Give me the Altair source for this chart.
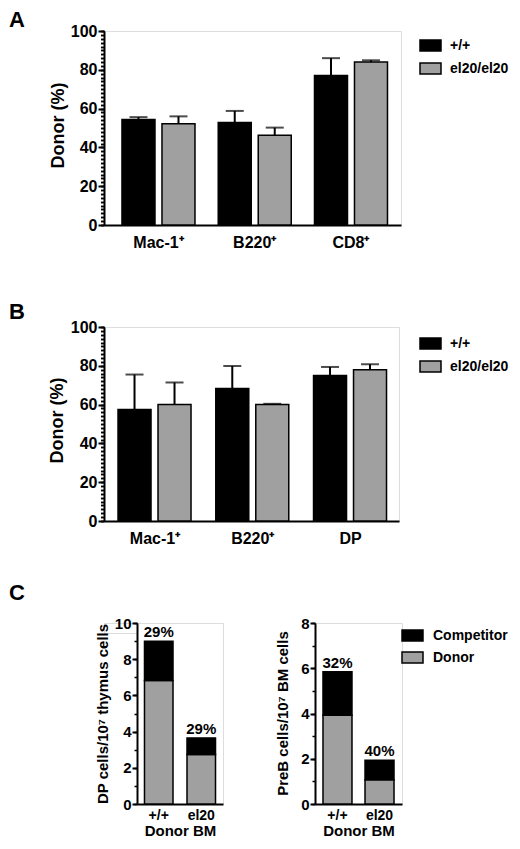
import altair as alt
import pandas as pd

FONT = "Liberation Sans"
GRAY = "#a0a0a0"
BLACK = "#000000"

# ---------------- data ----------------
genotypes = ["+/+", "el20/el20"]

a_cells = ["Mac-1⁺", "B220⁺", "CD8⁺"]
a_wt_mean = [54.4, 52.8, 77.0]
a_wt_sem = [1.2, 6.0, 9.0]
a_ko_mean = [52.2, 46.2, 84.0]
a_ko_sem = [3.8, 4.0, 0.9]

b_cells = ["Mac-1⁺", "B220⁺", "DP"]
b_wt_mean = [57.5, 68.3, 75.0]
b_wt_sem = [18.0, 11.6, 4.4]
b_ko_mean = [60.1, 60.0, 78.0]
b_ko_sem = [11.3, 0.4, 2.8]

donor_bm = ["+/+", "el20"]
sources = ["Competitor", "Donor"]
c1_donor = [6.82, 2.74]
c1_comp = [2.17, 0.91]
c1_pct = ["29%", "29%"]
c2_donor = [3.92, 1.07]
c2_comp = [1.93, 0.86]
c2_pct = ["32%", "40%"]

pct_major = [0, 20, 40, 60, 80, 100]
pct_minor = list(range(0, 101, 2))
c1_major = [0, 2, 4, 6, 8, 10]
c1_minor = list(range(0, 11))
c2_major = [0, 2, 4, 6, 8]
c2_minor = list(range(0, 9))

SYMBOL = "M-1,-0.524H1V0.524H-1Z"


def major_axis(values, title, title_size, label_size, tsize, tx, ty):
    return alt.Axis(
        values=values, title=title, orient="left", grid=False, labelFlush=False,
        labelOverlap=False, labelFont=FONT, labelFontSize=label_size,
        labelFontWeight="bold", labelColor=BLACK, labelPadding=1,
        tickSize=tsize, tickWidth=2, tickColor=BLACK,
        domainColor=BLACK, domainWidth=2,
        titleFont=FONT, titleFontSize=title_size, titleFontWeight="bold",
        titleColor=BLACK, titleAngle=270, titleBaseline="alphabetic",
        titleX=tx, titleY=ty,
    )


def minor_axis(values, tsize):
    return alt.Axis(values=values, title=None, orient="left", grid=False,
                    labels=False, domain=False, tickSize=tsize, tickWidth=1.5,
                    tickColor=BLACK)


def x_axis(size, pad, title=None):
    kw = dict(
        labelAngle=0, ticks=False, domainColor=BLACK, domainWidth=2,
        grid=False, labelFont=FONT, labelFontSize=size, labelFontWeight="bold",
        labelColor=BLACK, labelPadding=pad,
    )
    if title:
        kw.update(title=title, titleFont=FONT, titleFontSize=15, titleFontWeight="bold",
                  titleColor=BLACK, titlePadding=1)
    else:
        kw.update(title=None)
    return alt.Axis(**kw)


def legend(x, y, label_offset, row_pad):
    return alt.Legend(
        title=None, orient="none", legendX=x, legendY=y, direction="vertical",
        symbolType=SYMBOL, symbolSize=441, symbolStrokeColor=BLACK,
        symbolStrokeWidth=1.5, labelFont=FONT, labelFontSize=14,
        labelFontWeight="bold", labelColor=BLACK, labelOffset=label_offset,
        rowPadding=row_pad, padding=0,
    )


def panel_title(letter, dx, dy):
    return alt.TitleParams(text=letter, anchor="start", frame="group", font=FONT,
                           fontSize=22, fontWeight="bold", color=BLACK, dx=dx,
                           dy=dy, offset=0)


def bar_panel(cells, wt_m, wt_s, ko_m, ko_s, key, width, pin, pout, align,
              off_pin, leg_xy, ytitle_xy, title):
    df = pd.DataFrame({
        "cell": cells * 2,
        key: [genotypes[0]] * len(cells) + [genotypes[1]] * len(cells),
        "mean": wt_m + ko_m,
        "sem": wt_s + ko_s,
    })
    xs = alt.Scale(domain=cells, paddingInner=pin, paddingOuter=pout, align=align)
    offs = alt.Scale(domain=genotypes, paddingInner=off_pin, paddingOuter=0)
    ys = alt.Scale(domain=[0, 100], nice=False)
    y_main = major_axis(pct_major, "Donor (%)", 18, 16, 6, ytitle_xy[0], ytitle_xy[1])
    y_minor = minor_axis(pct_minor, 3.5)
    X = alt.X("cell:N", scale=xs, axis=x_axis(16, 9))
    XO = alt.XOffset(f"{key}:N", scale=offs)
    base = alt.Chart(df)
    bars = base.mark_bar(stroke=BLACK, strokeWidth=1.5).encode(
        x=X, xOffset=XO,
        y=alt.Y("mean:Q", scale=ys, axis=y_main),
        fill=alt.Fill(f"{key}:N", scale=alt.Scale(domain=genotypes, range=[BLACK, GRAY]),
                      legend=legend(leg_xy[0], leg_xy[1], 8, 2)),
    )
    err = base.transform_calculate(upper="datum.mean + datum.sem")
    rules = err.mark_rule(color=BLACK, strokeWidth=2).encode(
        x=X, xOffset=XO,
        y=alt.Y("mean:Q", scale=ys, axis=y_minor),
        y2="upper:Q",
    )
    caps = err.mark_tick(color=BLACK, thickness=2, size=18).encode(
        x=X, xOffset=XO,
        y=alt.Y("upper:Q", scale=ys, axis=y_minor),
    )
    return alt.layer(bars, rules, caps).resolve_axis(y="independent").properties(
        width=width, height=194, title=title)


def stack_panel(donor, comp, pcts, key, ymax, major_v, minor_v, width, pin, pout,
                ytitle, ytitle_xy, leg=None, title=None):
    df = pd.DataFrame({
        "bm": donor_bm * 2,
        key: ["Donor"] * len(donor_bm) + ["Competitor"] * len(donor_bm),
        "cells": donor + comp,
        "rank": [0] * len(donor_bm) + [1] * len(donor_bm),
    })
    lab = pd.DataFrame({
        "bm": donor_bm,
        "pct": pcts,
        "total": [d + c for d, c in zip(donor, comp)],
    })
    xs = alt.Scale(domain=donor_bm, paddingInner=pin, paddingOuter=pout, align=0.5)
    ys = alt.Scale(domain=[0, ymax], nice=False)
    X = alt.X("bm:N", scale=xs, axis=x_axis(14, 4, title="Donor BM"))
    bars = alt.Chart(df).mark_bar(stroke=BLACK, strokeWidth=1.5).encode(
        x=X,
        y=alt.Y("cells:Q", stack="zero", scale=ys,
                axis=major_axis(major_v, ytitle, 15, 15, 5, ytitle_xy[0], ytitle_xy[1])),
        fill=alt.Fill(f"{key}:N", scale=alt.Scale(domain=sources, range=[BLACK, GRAY]),
                      legend=leg),
        order=alt.Order("rank:Q"),
    )
    texts = alt.Chart(lab).mark_text(
        font=FONT, fontSize=15, fontWeight="bold", color=BLACK,
        baseline="alphabetic", align="center", dy=-4,
    ).encode(
        x=X,
        y=alt.Y("total:Q", scale=ys, axis=minor_axis(minor_v, 3)),
        text="pct:N",
    )
    props = dict(width=width, height=181)
    if title is not None:
        props["title"] = title
    return alt.layer(bars, texts).resolve_axis(y="independent").properties(**props)


panel_a = bar_panel(a_cells, a_wt_mean, a_wt_sem, a_ko_mean, a_ko_sem, "gA",
                    297, 0.2416, 0.1636, 0.571, 0.175, (315, 3), (-41, 94),
                    panel_title("A", -95, 9))
panel_b = bar_panel(b_cells, b_wt_mean, b_wt_sem, b_ko_mean, b_ko_sem, "gB",
                    295, 0.243, 0.1304, 0.55, 0.195, (315, 5), (-42, 93),
                    panel_title("B", -95, 5))

panel_c1 = stack_panel(c1_donor, c1_comp, c1_pct, "s1", 10, c1_major, c1_minor,
                       86, 0.329, 0.176, "DP cells/10⁷ thymus cells", (-30, 90.5),
                       leg=None, title=panel_title("C", -128, -11))
panel_c2 = stack_panel(c2_donor, c2_comp, c2_pct, "s2", 8, c2_major, c2_minor,
                       87, 0.31, 0.19, "PreB cells/10⁷ BM cells", (-27.5, 90),
                       leg=legend(86, 1, 9, 1))

spacer = alt.Chart(pd.DataFrame({"s": [0]})).mark_point(size=0, opacity=0).encode(
    x=alt.value(0), y=alt.value(0)).properties(width=33, height=10)

c_pair = alt.hconcat(panel_c1, panel_c2, spacing=92, bounds="flush").resolve_scale(
    fill="independent")
c_row = alt.hconcat(spacer, c_pair, spacing=0, bounds="flush").resolve_scale(
    fill="independent")

chart = alt.vconcat(panel_a, panel_b, c_row, spacing=102, bounds="flush",
                    padding=0).resolve_scale(fill="independent").configure_view(
    strokeWidth=0).configure(font=FONT)

chart.save("out.html", embed_options={"renderer": "svg", "actions": False})
